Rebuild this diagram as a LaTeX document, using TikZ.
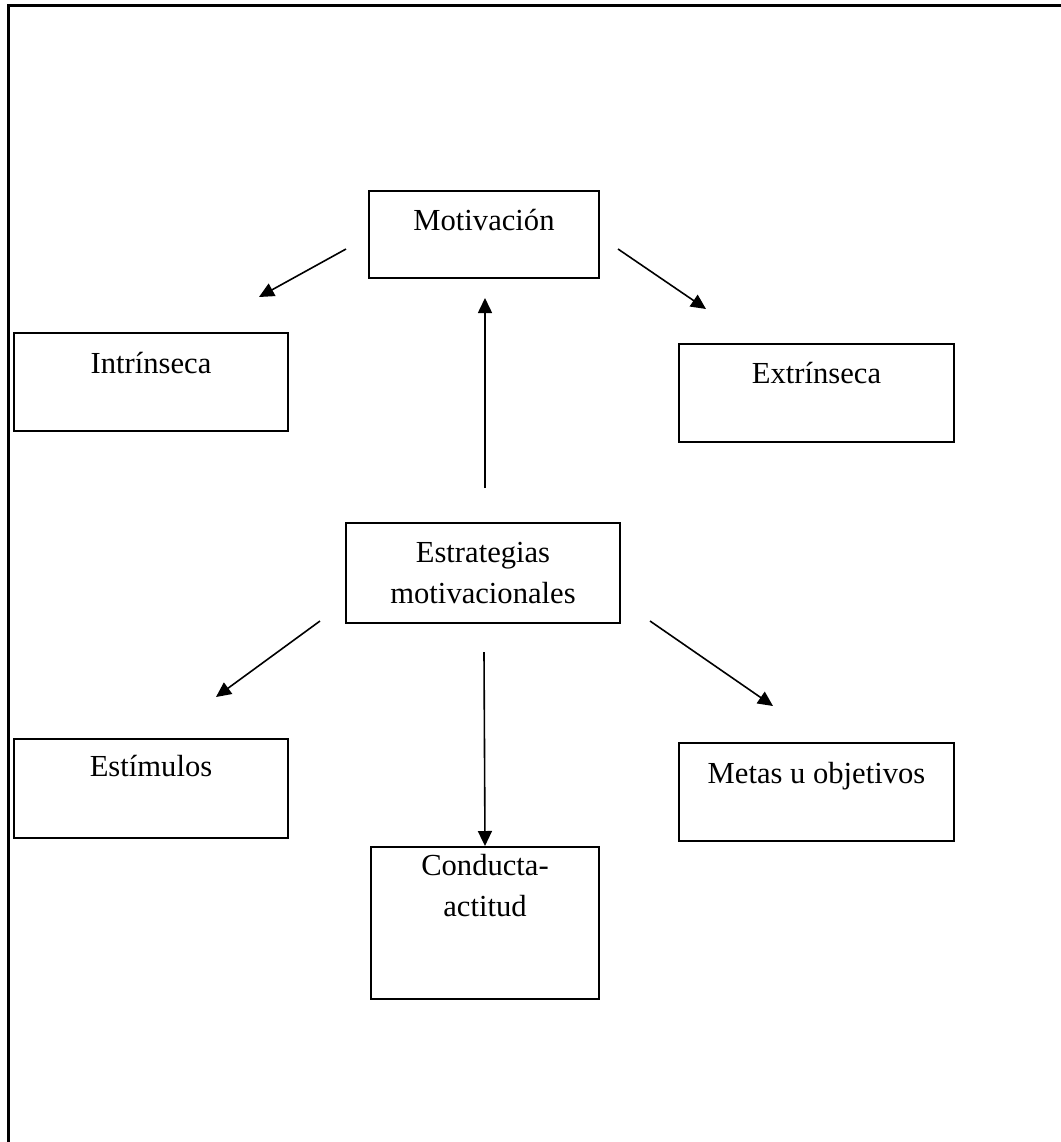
\documentclass[tikz,border=0pt]{standalone}
\usepackage{fontspec}
\setmainfont{Liberation Serif}
\usepackage{tikz}
\usetikzlibrary{arrows.meta}

% box text: width, height, first baseline, text
\newcommand{\caja}[4]{\parbox[t][#2][t]{#1}{\centering\rule{0pt}{#3}#4}}

\tikzset{
	cajita/.style={draw, line width=1pt, inner sep=0pt, anchor=north west},
	flecha/.style={line width=0.8pt, -{Triangle[length=7.5pt, width=7pt]}}
}

\begin{document}
\begin{tikzpicture}[x=0.5pt, y=-0.5pt, font=\fontsize{15.3}{20.5}\selectfont]
	\useasboundingbox (0,0) rectangle (1061,1142);
	\draw[line width=1.5pt] (1061,5) -- (8,5) -- (8,1142);

			\node	(mot) at (368,190) [cajita] {\caja{115pt}{43.5pt}{19.5pt}{Motivación}};
			\node	(intr) at (13,332) [cajita] {\caja{137pt}{49pt}{20pt}{Intrínseca}};
			\node	(extr) at (678,343) [cajita] {\caja{137.5pt}{49pt}{19.5pt}{Extrínseca}};
			\node	(estr) at (345,522) [cajita] {\caja{137pt}{50pt}{19.5pt}{Estrategias\\motivacionales}};
			\node	(esti) at (13,738) [cajita] {\caja{137pt}{49.5pt}{18.5pt}{Estímulos}};
			\node	(metas) at (678,742) [cajita] {\caja{137.5pt}{49pt}{20pt}{Metas u objetivos}};
			\node	(cond) at (370,846) [cajita] {\caja{114pt}{76pt}{14pt}{Conducta-\\actitud}};

			\coordinate (m1) at (346,249);
			\coordinate (m2) at (259,297);
			\coordinate (m3) at (618,249);
			\coordinate (m4) at (706,309);
			\coordinate (e1) at (485,488);
			\coordinate (e2) at (485,298);
			\coordinate (e3) at (320,621);
			\coordinate (e4) at (216,697);
			\coordinate (e5) at (650,621);
			\coordinate (e6) at (773,706);
			\coordinate (e7) at (484,652);

			\draw 
			(m1) edge[flecha] (m2)
			(m3) edge[flecha] (m4)
			(e1) edge[flecha] (e2)
			(e3) edge[flecha] (e4)
			(e5) edge[flecha] (e6)
			(e7) edge[flecha] (cond.north)
			;
\end{tikzpicture}
\end{document}
